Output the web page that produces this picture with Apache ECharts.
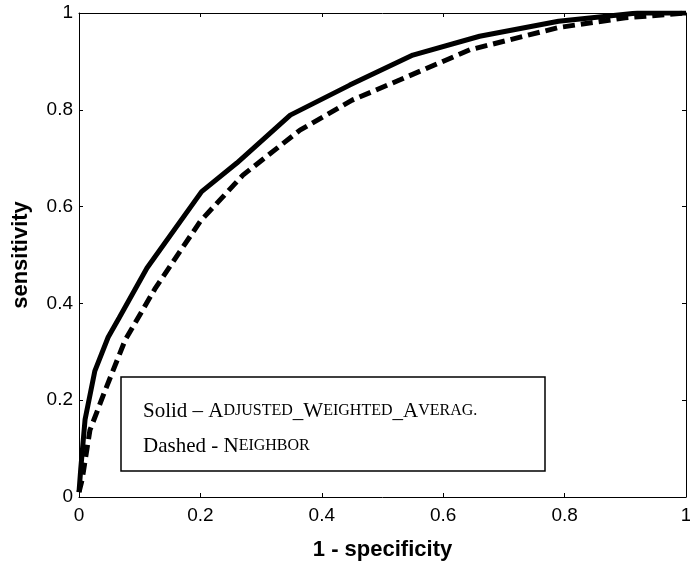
<!DOCTYPE html>
<html>
<head>
<meta charset="utf-8">
<script src="https://cdn.jsdelivr.net/npm/echarts@6/dist/echarts.min.js"></script>
<style>
html, body { margin: 0; padding: 0; background: #fff; }
#chart { width: 690px; height: 567px; }
</style>
</head>
<body>
<div id="chart"></div>
<script>
// ROC curves
const solidFpr = [0, 0.003, 0.01, 0.026, 0.048, 0.066, 0.112, 0.202, 0.26, 0.348, 0.446, 0.55, 0.66, 0.79, 0.92, 1]
const solidTpr = [0.01, 0.06, 0.16, 0.26, 0.33, 0.37, 0.473, 0.631, 0.69, 0.789, 0.851, 0.913, 0.952, 0.983, 1.0, 1.0]
const dashedFpr = [0, 0.005, 0.018, 0.043, 0.076, 0.125, 0.2, 0.27, 0.364, 0.45, 0.529, 0.644, 0.79, 0.9, 1]
const dashedTpr = [0.01, 0.035, 0.138, 0.22, 0.324, 0.43, 0.57, 0.665, 0.758, 0.82, 0.862, 0.924, 0.97, 0.99, 1]
const xTicks = [0, 0.2, 0.4, 0.6, 0.8, 1]
const yTicks = [0, 0.2, 0.4, 0.6, 0.8, 1]

const pairs = (xs, ys) => xs.map((x, i) => [x, ys[i]])
const tickFmt = v => xTicks.concat(yTicks).includes(+v.toFixed(2)) ? String(+v.toFixed(1)) : ''

const chart = echarts.init(document.getElementById('chart'))

const axisCommon = {
    type: 'value',
    min: 0,
    max: 1,
    interval: 0.2,
    axisLine: { show: true, onZero: false, lineStyle: { color: '#000', width: 1 } },
    axisTick: { show: true, inside: true, length: 4, lineStyle: { color: '#000' } },
    splitLine: { show: false }
}

const sans = '"Liberation Sans", Arial, sans-serif'
const serif = '"Liberation Serif", "Times New Roman", serif'

chart.setOption({
    animation: false,
    grid: { left: 79, right: 4, top: 13, bottom: 70, containLabel: false, outerBoundsMode: 'none' },
    xAxis: [
        Object.assign({}, axisCommon, {
            position: 'bottom',
            name: '1 - specificity',
            nameLocation: 'middle',
            nameGap: 42,
            nameTextStyle: { fontFamily: sans, fontWeight: 'bold', fontSize: 22, color: '#000' },
            axisLabel: { fontFamily: sans, fontSize: 19, color: '#000', margin: 9, formatter: tickFmt }
        }),
        Object.assign({}, axisCommon, { position: 'top', axisLabel: { show: false } })
    ],
    yAxis: [
        Object.assign({}, axisCommon, {
            position: 'left',
            name: 'sensitivity',
            nameLocation: 'middle',
            nameGap: 47,
            nameTextStyle: { fontFamily: sans, fontWeight: 'bold', fontSize: 22, color: '#000' },
            axisLabel: { fontFamily: sans, fontSize: 19, color: '#000', margin: 6, formatter: tickFmt }
        }),
        Object.assign({}, axisCommon, { position: 'right', axisLabel: { show: false } })
    ],
    series: [
        {
            name: 'Solid',
            type: 'line',
            data: pairs(solidFpr, solidTpr),
            showSymbol: false,
            lineStyle: { color: '#000', width: 5 }
        },
        {
            name: 'Dashed',
            type: 'line',
            data: pairs(dashedFpr, dashedTpr),
            showSymbol: false,
            lineStyle: { color: '#000', width: 5, type: [12, 6] }
        }
    ],
    graphic: [
        {
            type: 'rect',
            shape: { x: 121, y: 377, width: 424, height: 94 },
            style: { fill: '#fff', stroke: '#000', lineWidth: 1.5 },
            z: 10
        },
        {
            type: 'text',
            x: 143,
            y: 411,
            z: 11,
            style: {
                text: '{b|Solid – A}{s|DJUSTED}{b|_W}{s|EIGHTED}{b|_A}{s|VERAG.}',
                verticalAlign: 'middle',
                rich: {
                    b: { fontFamily: serif, fontSize: 21, fill: '#000' },
                    s: { fontFamily: serif, fontSize: 16, fill: '#000' }
                }
            }
        },
        {
            type: 'text',
            x: 143,
            y: 446,
            z: 11,
            style: {
                text: '{b|Dashed - N}{s|EIGHBOR}',
                verticalAlign: 'middle',
                rich: {
                    b: { fontFamily: serif, fontSize: 21, fill: '#000' },
                    s: { fontFamily: serif, fontSize: 16, fill: '#000' }
                }
            }
        }
    ]
})
</script>
</body>
</html>
